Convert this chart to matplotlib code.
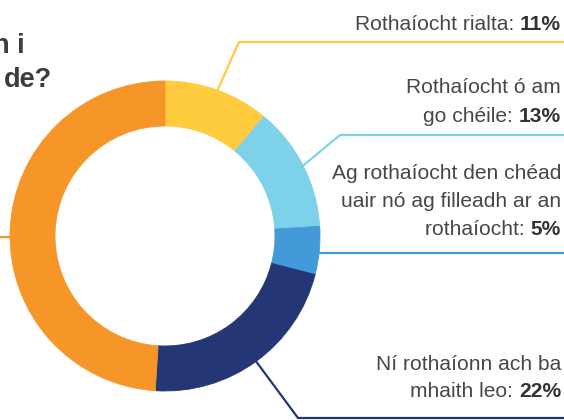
import numpy as np
import matplotlib
matplotlib.use('Agg')
import matplotlib.pyplot as plt

plt.rcParams['font.family'] = ['Liberation Sans', 'DejaVu Sans']

# data
labels = [
    ["Rothaíocht rialta: "],
    ["Rothaíocht ó am", "go chéile: "],
    ["Ag rothaíocht den chéad", "uair nó ag filleadh ar an", "rothaíocht: "],
    ["Ní rothaíonn ach ba", "mhaith leo: "],
    [],
]
values = [11, 13, 5, 22, 49]
colors = ['#FFCB3F', '#7DD2EA', '#429BD8', '#243673', '#F79628']
title_lines = ["n i", "de?"]

# layout (pixels)
W, H = 564, 420
cx, cy = 165, 236
r_out, r_w = 155, 45
text_right = 561
baselines = [[30], [93, 122], [179, 207, 235], [370, 397], []]
elbows = [(239, 42), (340, 135), None, (298, 418), None]
line_y = [42, 135, 253, 418, 237]
line_dir = [1, 1, 1, 1, -1]

fig = plt.figure(figsize=(5.64, 4.2), dpi=100)
ax = fig.add_axes([0, 0, 1, 1])

wedges, _ = ax.pie(values, colors=colors, startangle=-90, counterclock=True,
                   center=(cx, cy), radius=r_out,
                   wedgeprops=dict(width=r_w, linewidth=0.6))
for w, c in zip(wedges, colors):
    w.set_edgecolor(c)
ax.set_xlim(0, W)
ax.set_ylim(H, 0)
ax.set_aspect('equal')
ax.axis('off')

# leader lines
cum = np.cumsum([0] + values)
for i, v in enumerate(values):
    mid = -90 + (cum[i] + v / 2.0) * 3.6
    sx = cx + r_out * np.cos(np.radians(mid))
    sy = cy + r_out * np.sin(np.radians(mid))
    xs, ys = [sx], [sy]
    if elbows[i]:
        xs.append(elbows[i][0]); ys.append(elbows[i][1])
    else:
        ys[0] = line_y[i]
    xs.append(W if line_dir[i] > 0 else 0)
    ys.append(line_y[i])
    ax.plot(xs, ys, color=colors[i], lw=1.6, solid_capstyle='butt', clip_on=False)

# labels
fig.canvas.draw()
renderer = fig.canvas.get_renderer()
tcol = '#474747'
fs = 15.1
for i, lines in enumerate(labels):
    for j, line in enumerate(lines):
        y = baselines[i][j]
        if j == len(lines) - 1:
            b = ax.text(text_right, y, "%d%%" % values[i], ha='right', va='baseline',
                        fontsize=fs, fontweight='bold', color='#333333')
            bb = b.get_window_extent(renderer)
            x0 = ax.transData.inverted().transform((bb.x0, bb.y0))[0]
            ax.text(x0, y, line, ha='right', va='baseline', fontsize=fs, color=tcol)
        else:
            ax.text(text_right, y, line, ha='right', va='baseline', fontsize=fs, color=tcol)

# title, cut off at the left edge as in the source
ax.text(25, 53, title_lines[0], ha='right', va='baseline', fontsize=19.5,
        fontweight='bold', color='#3d3d3d')
ax.text(52, 87, title_lines[1], ha='right', va='baseline', fontsize=19.5,
        fontweight='bold', color='#3d3d3d')

fig.savefig('out.png', dpi=100)
